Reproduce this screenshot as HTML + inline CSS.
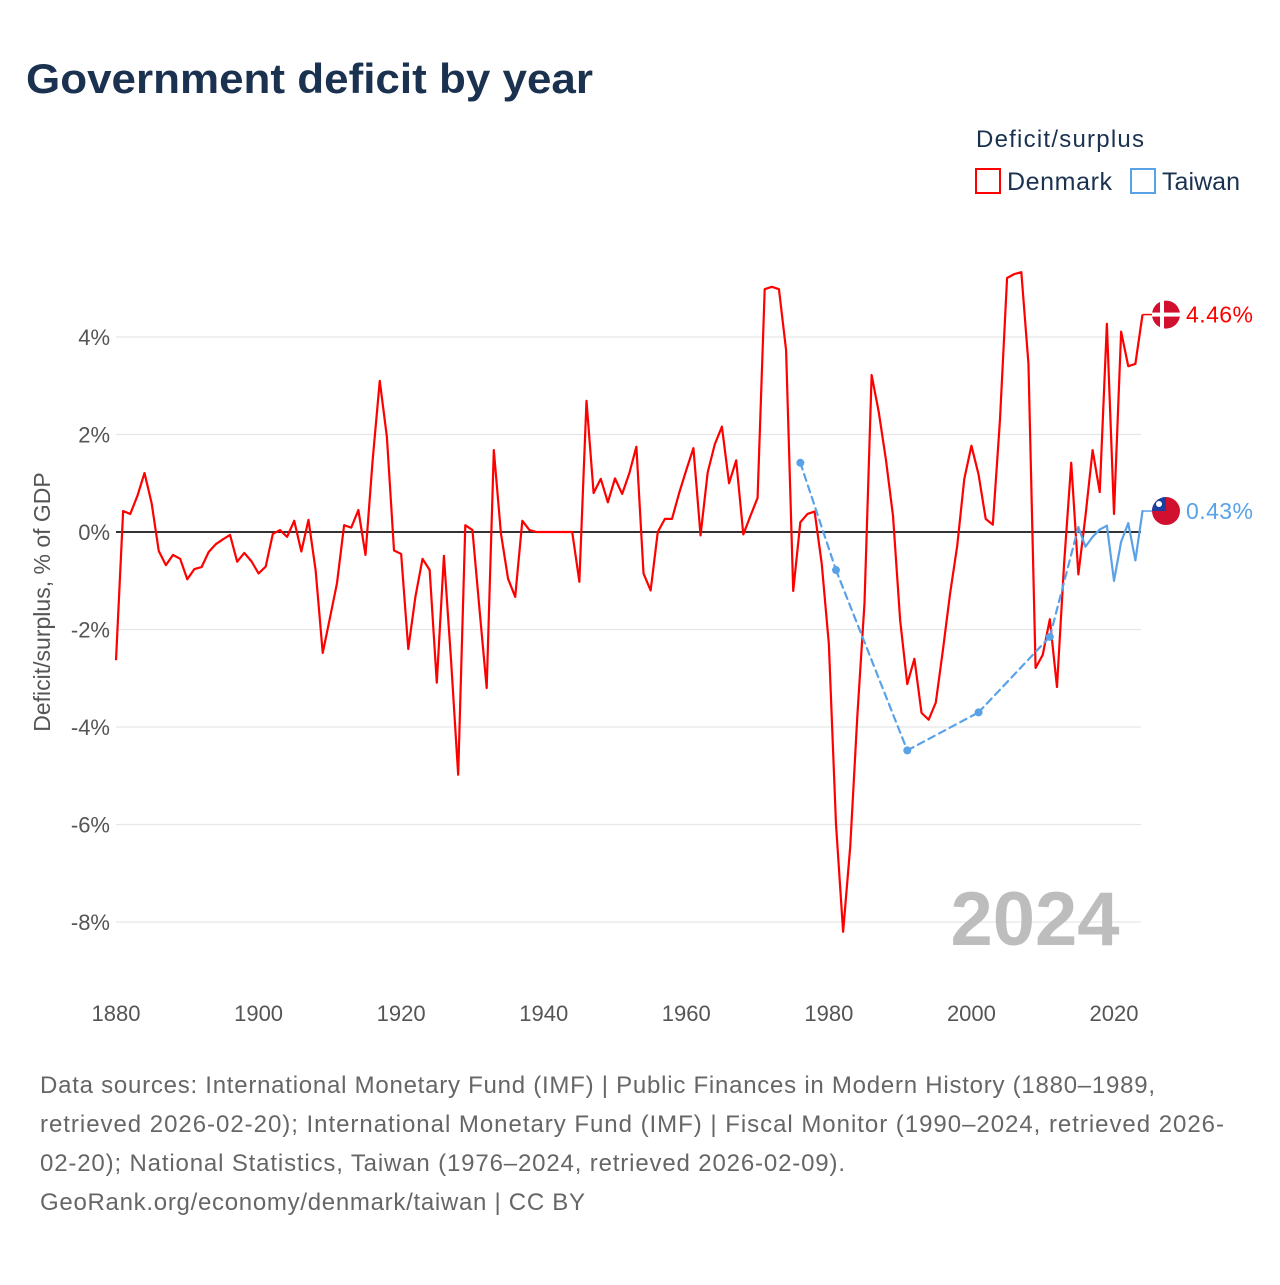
<!DOCTYPE html>
<html><head><meta charset="utf-8">
<style>
html,body{margin:0;padding:0;background:#fff;}
body{width:1280px;height:1280px;overflow:hidden;font-family:"Liberation Sans",sans-serif;}
svg text{font-family:"Liberation Sans",sans-serif;}
</style></head>
<body>
<svg id="chart" width="1280" height="1280" viewBox="0 0 1280 1280">
<text x="26" y="93" font-size="42" font-weight="bold" fill="#1b3150" textLength="567" lengthAdjust="spacingAndGlyphs">Government deficit by year</text>
<g>
<text x="976" y="147" font-size="24" fill="#1b3150" textLength="168">Deficit/surplus</text>
<g>
<rect x="976" y="169" width="24" height="24" fill="none" stroke="#f00" stroke-width="2"/>
<text x="1007" y="190" font-size="25" fill="#1b3150" textLength="105">Denmark</text></g>
<g>
<rect x="1131" y="169" width="24" height="24" fill="none" stroke="#5aa2e8" stroke-width="2"/>
<text x="1162" y="190" font-size="25" fill="#1b3150" textLength="78">Taiwan</text></g>
</g>
<text transform="translate(50,602) rotate(-90)" text-anchor="middle" font-size="23" fill="#555">Deficit/surplus, % of GDP</text>
<g id="grid"></g>
<g id="yticks"></g>
<g id="xticks"></g>
<text x="1035" y="945" text-anchor="middle" font-size="76" font-weight="bold" fill="#bdbdbd">2024</text>
<g id="series"></g>
<g font-size="24" fill="#666">
<text x="40" y="1093" textLength="1115">Data sources: International Monetary Fund (IMF) | Public Finances in Modern History (1880–1989,</text>
<text x="40" y="1132" textLength="1184">retrieved 2026-02-20); International Monetary Fund (IMF) | Fiscal Monitor (1990–2024, retrieved 2026-</text>
<text x="40" y="1171" textLength="805">02-20); National Statistics, Taiwan (1976–2024, retrieved 2026-02-09).</text>
<text x="40" y="1210" textLength="545">GeoRank.org/economy/denmark/taiwan | CC BY</text>
</g>
</svg>
<script>
const denmarkStart = 1880;
const denmarkValues = [-2.63,0.43,0.37,0.74,1.21,0.59,-0.39,-0.68,-0.47,-0.55,
-0.97,-0.76,-0.72,-0.41,-0.25,-0.15,-0.06,-0.61,-0.43,-0.6,
-0.85,-0.71,-0.04,0.04,-0.1,0.23,-0.4,0.25,-0.78,-2.48,
-1.77,-1.05,0.14,0.09,0.45,-0.47,1.47,3.1,1.95,-0.38,
-0.45,-2.4,-1.33,-0.55,-0.78,-3.09,-0.49,-2.63,-4.98,0.14,
0.04,-1.6,-3.2,1.68,-0.03,-0.96,-1.33,0.23,0.04,0,
0,0,0,0,0,-1.02,2.69,0.8,1.09,0.61,
1.1,0.78,1.2,1.75,-0.85,-1.2,0,0.27,0.27,0.8,
1.27,1.72,-0.07,1.22,1.8,2.16,1.0,1.47,-0.05,0.33,
0.7,4.98,5.03,4.98,3.73,-1.21,0.2,0.37,0.42,-0.65,
-2.3,-5.99,-8.2,-6.45,-3.76,-1.46,3.22,2.46,1.49,0.33,
-1.81,-3.12,-2.6,-3.71,-3.85,-3.5,-2.42,-1.27,-0.29,1.09,
1.77,1.18,0.27,0.15,2.29,5.21,5.29,5.33,3.45,-2.79,
-2.52,-1.79,-3.18,-0.65,1.42,-0.87,0.33,1.68,0.82,4.27,
0.37,4.11,3.4,3.45,4.46];
const taiwanYears = [1976,1981,1991,2001,2011,2015,2016,2017,2018,2019,2020,2021,2022,2023,2024];
const taiwanValues = [1.42,-0.78,-4.48,-3.7,-2.15,0.1,-0.3,-0.1,0.05,0.13,-1.0,-0.2,0.18,-0.58,0.43];
const yTicks = [4,2,0,-2,-4,-6,-8];
const xTicks = [1880,1900,1920,1940,1960,1980,2000,2020];

const NS='http://www.w3.org/2000/svg';
const X = yr => 116 + (yr-1880)*(998/140);
const Y = v => 532 - v*48.75;
function mk(tag, attrs, parent){const e=document.createElementNS(NS,tag);for(const k in attrs)e.setAttribute(k,attrs[k]);parent.appendChild(e);return e;}
const grid=document.getElementById('grid'), yt=document.getElementById('yticks'), xt=document.getElementById('xticks'), ser=document.getElementById('series');
yTicks.forEach(t=>{
  if(t!==0){const l=mk('line',{x1:116,x2:1141,y1:Y(t),y2:Y(t),stroke:'#e6e6e6','stroke-width':1.2},grid);
  
  }
  const tx=mk('text',{x:110,y:Y(t)+8,'text-anchor':'end','font-size':22,fill:'#555'},yt);
  tx.textContent=t+'%';
  
  
});
xTicks.forEach(t=>{
  const tx=mk('text',{x:X(t),y:1021,'text-anchor':'middle','font-size':22,fill:'#555'},xt);
  tx.textContent=t;
  
  
});
const zl=mk('line',{x1:116,x2:1141,y1:Y(0),y2:Y(0),stroke:'#333','stroke-width':2},grid);



const dk=mk('polyline',{points:denmarkValues.map((v,i)=>X(denmarkStart+i)+','+Y(v)).join(' '),fill:'none',stroke:'#f00','stroke-width':2.2,'stroke-linejoin':'round'},ser);


for(let i=1;i<taiwanYears.length;i++){
  const gap=taiwanYears[i]-taiwanYears[i-1]>1;
  const s=mk('line',{x1:X(taiwanYears[i-1]),y1:Y(taiwanValues[i-1]),x2:X(taiwanYears[i]),y2:Y(taiwanValues[i]),stroke:'#5aa2e8','stroke-width':2.2,'stroke-dasharray':gap?'7,5':'none','stroke-linecap':'round'},ser);
  
  
}
taiwanYears.forEach((yr,i)=>{
  const prevGap = i===0 || yr-taiwanYears[i-1]>1;
  const nextGap = i===taiwanYears.length-1 || taiwanYears[i+1]-yr>1;
  if(prevGap && nextGap){
    const c=mk('circle',{cx:X(yr),cy:Y(taiwanValues[i]),r:4,fill:'#5aa2e8'},ser);
    
    
  }
});
function endLabel(v,color,label,name,flag){
  const y=Y(v), x0=X(2024);
  const l=mk('line',{x1:x0,x2:1152,y1:y,y2:y,stroke:color,'stroke-width':1.5},ser);
  
  
  const g=mk('g',{},ser);
  
  
  flag(g,1166,y);
  const t=mk('text',{x:1186,y:y+8,'font-size':23,fill:color,textLength:67},ser);
  t.textContent=label;
  
  
}
endLabel(denmarkValues[denmarkValues.length-1],'#f00','4.46%','denmark',(g,cx,cy)=>{
  mk('circle',{cx:cx,cy:cy,r:14,fill:'#d0102e'},g);
  mk('rect',{x:cx-6,y:cy-14,width:4,height:28,fill:'#fff'},g);
  mk('rect',{x:cx-14,y:cy-2,width:28,height:4,fill:'#fff'},g);
});
endLabel(taiwanValues[taiwanValues.length-1],'#5aa2e8','0.43%','taiwan',(g,cx,cy)=>{
  mk('circle',{cx:cx,cy:cy,r:14,fill:'#d0102e'},g);
  mk('path',{d:`M${cx-14},${cy} A14,14 0 0 1 ${cx},${cy-14} L${cx},${cy} Z`,fill:'#1a3fa0'},g);
  mk('circle',{cx:cx-7,cy:cy-7,r:3,fill:'#fff'},g);
});
</script>
</body></html>
